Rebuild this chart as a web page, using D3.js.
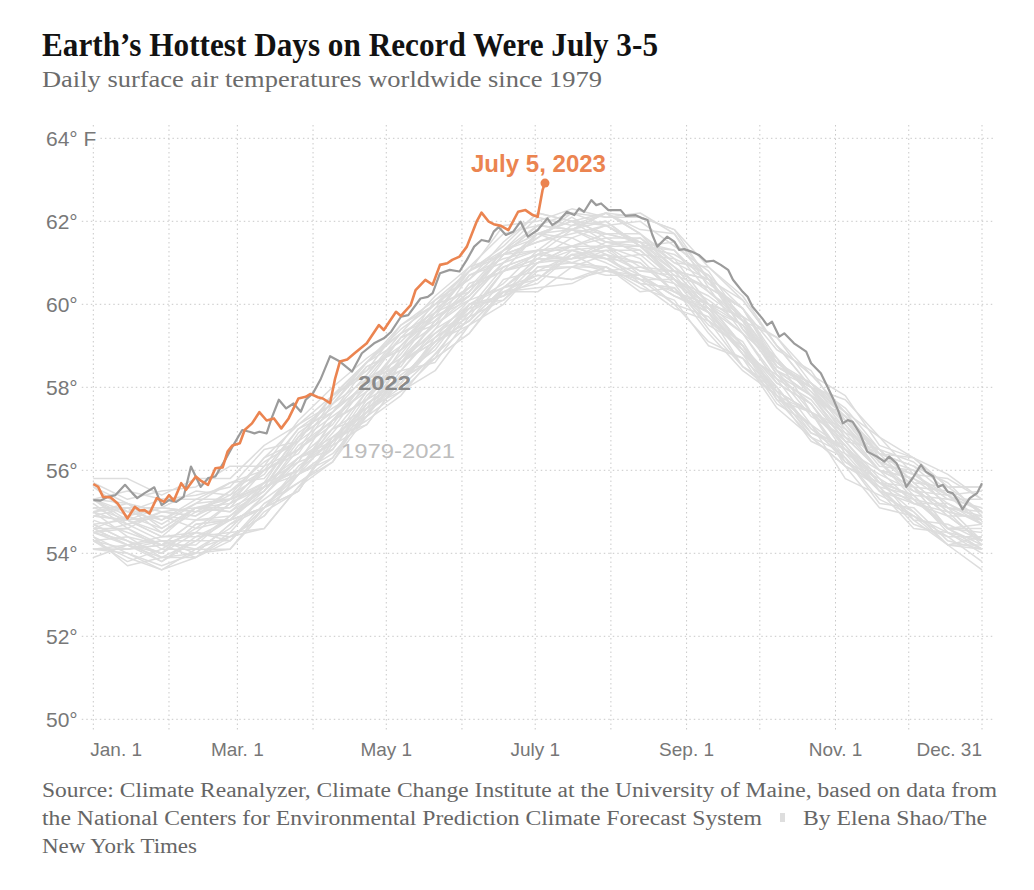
<!DOCTYPE html>
<html>
<head>
<meta charset="utf-8">
<script src="https://cdn.jsdelivr.net/npm/d3@7"></script>
<style>
  body { margin: 0; background: #ffffff; }
  svg { display: block; }
</style>
</head>
<body>
<svg id="chart" width="1034" height="890"></svg>
<script>
// ---------------- DATA ----------------
const gridDays = [0, 31, 59, 90, 120, 151, 181, 212, 243, 273, 304, 334, 364];
const xLabelDays = [0, 59, 120, 181, 243, 304, 364];
const xLabelTexts = ["Jan. 1", "Mar. 1", "May 1", "July 1", "Sep. 1", "Nov. 1", "Dec. 31"];
const yTicks = [50, 52, 54, 56, 58, 60, 62, 64];
const yTickLabels = ["50°", "52°", "54°", "56°", "58°", "60°", "62°", "64° F"];

// 1979-2021: estimated values every 14 days (day of year)
const historicDays = [0,14,28,42,56,70,84,98,112,126,140,154,168,182,196,210,224,238,252,266,280,294,308,322,336,350,364];
const historicYears = [1979,1980,1981,1982,1983,1984,1985,1986,1987,1988,1989,1990,1991,1992,1993,1994,1995,1996,1997,1998,1999,2000,2001,2002,2003,2004,2005,2006,2007,2008,2009,2010,2011,2012,2013,2014,2015,2016,2017,2018,2019,2020,2021];
const historicTemps = [
  [54.3,53.8,54.1,54.1,54.1,55.1,55.9,56.4,57.3,58.4,58.6,59.7,60.1,60.9,60.9,60.7,60.7,60.5,59.4,58.5,58.0,57.0,56.3,55.2,55.1,54.3,54.1], // 1979
  [54.1,54.2,54.0,54.5,54.4,54.9,55.9,56.8,57.1,58.2,59.1,59.6,60.4,60.6,61.3,61.1,60.6,60.3,59.8,58.9,57.7,57.4,56.2,55.6,54.8,54.7,54.3], // 1980
  [54.3,54.4,53.9,54.0,54.7,55.1,55.5,56.7,57.6,58.1,59.0,60.0,60.1,60.8,60.9,61.2,60.5,60.4,59.6,59.1,57.8,56.9,56.5,55.7,55.0,54.2,54.4], // 1981
  [54.3,53.9,53.6,54.1,54.4,54.6,55.6,56.6,57.1,58.2,58.7,59.3,60.4,60.7,60.6,60.8,60.7,60.0,59.1,58.7,57.9,56.8,56.1,55.6,54.7,54.4,53.8], // 1982
  [54.3,54.1,54.3,54.1,54.6,55.4,56.2,56.5,57.6,58.2,58.7,60.0,60.4,61.0,61.3,61.0,60.6,60.6,59.8,58.9,57.9,57.4,56.1,55.7,55.4,54.6,54.2], // 1983
  [54.4,54.0,53.7,54.0,54.1,55.0,55.5,56.7,57.2,57.8,58.8,59.5,60.3,60.3,60.9,60.9,60.5,59.9,59.6,58.5,57.8,56.7,56.3,55.3,54.9,54.5,54.0], // 1984
  [54.1,54.0,53.6,53.9,54.5,54.6,55.6,56.2,57.3,57.9,58.4,59.5,60.3,60.4,60.5,60.9,60.4,60.1,59.0,58.7,57.5,56.8,56.1,55.1,54.9,54.2,53.6], // 1985
  [54.4,53.7,53.9,54.3,54.3,55.1,55.5,56.8,57.4,58.0,58.8,59.8,60.3,60.5,61.2,60.8,60.6,60.0,59.7,58.8,57.6,57.1,56.2,55.8,54.8,54.2,54.2], // 1986
  [54.6,54.2,53.8,54.4,54.8,55.1,56.0,57.0,57.3,58.3,58.9,60.0,60.2,61.0,61.1,61.4,60.7,60.2,59.9,59.0,58.0,56.9,56.6,55.7,55.4,54.5,54.1], // 1987
  [54.7,54.3,54.0,54.7,54.8,55.1,56.0,57.0,57.5,58.1,59.2,60.1,60.4,61.0,61.4,61.1,61.0,60.3,60.0,59.0,57.9,57.4,56.6,55.5,55.2,54.9,54.3], // 1988
  [54.1,54.1,54.2,54.5,54.3,55.2,55.7,56.3,57.6,58.2,59.0,59.9,60.2,60.6,61.2,61.1,60.7,60.2,59.8,58.5,57.9,57.4,56.3,55.5,54.9,54.4,54.4], // 1989
  [54.5,54.7,54.3,54.3,54.9,55.4,56.3,56.6,57.8,58.6,59.2,59.8,60.8,61.0,61.4,61.1,61.2,60.5,60.0,59.3,58.2,57.7,56.7,55.8,55.3,54.6,54.6], // 1990
  [54.6,54.2,54.4,54.4,54.5,55.4,56.3,56.7,57.4,58.6,59.1,60.0,60.2,61.2,61.1,61.2,61.0,60.3,60.0,59.0,57.8,57.4,56.7,55.7,55.2,55.0,54.2], // 1991
  [53.9,54.2,53.9,53.9,54.3,55.1,55.7,56.2,57.5,57.9,58.7,59.3,60.3,60.7,60.6,60.9,60.5,60.4,59.3,58.4,57.8,57.1,55.8,55.4,55.0,54.2,54.1], // 1992
  [54.1,54.1,54.2,53.9,54.4,54.9,55.9,56.3,57.4,58.1,59.1,59.5,60.0,60.9,61.0,60.9,60.3,60.4,59.5,59.0,57.7,56.8,56.4,55.5,54.6,54.5,54.3], // 1993
  [54.5,54.3,53.8,54.3,54.8,55.1,56.1,56.7,57.3,58.6,59.1,59.6,60.4,61.1,61.0,60.8,60.9,60.6,59.6,58.9,58.2,57.1,56.5,55.5,55.3,54.6,54.1], // 1994
  [54.7,54.3,54.0,54.7,54.8,55.5,56.3,56.8,57.5,58.7,59.3,60.0,60.5,61.3,61.0,61.3,61.3,60.6,59.8,59.0,58.1,57.6,56.4,55.9,55.5,55.1,54.3], // 1995
  [54.5,54.2,54.3,54.0,54.7,55.3,55.9,56.5,57.7,58.2,59.1,59.6,60.6,60.8,61.2,61.3,60.8,60.7,59.8,58.8,58.0,57.0,56.5,55.6,55.4,54.6,54.1], // 1996
  [55.0,54.4,54.2,54.8,54.9,55.6,55.9,57.2,57.7,58.6,59.4,59.9,60.9,61.2,61.1,61.5,61.3,60.6,60.0,59.7,58.3,57.8,56.8,56.4,55.6,54.9,54.9], // 1997
  [55.6,55.0,54.8,55.3,55.7,55.8,56.8,57.8,58.3,59.3,59.7,60.8,61.2,61.5,61.7,61.9,61.5,60.8,60.6,59.4,58.4,57.4,57.0,56.2,55.3,55.1,54.7], // 1998
  [54.5,54.6,54.1,54.6,54.8,55.7,56.0,56.7,57.9,58.6,59.2,59.7,60.8,61.1,61.6,61.2,60.8,60.8,59.9,58.8,58.3,57.6,56.5,56.0,55.6,54.6,54.5], // 1999
  [54.6,54.6,54.2,54.2,54.9,55.6,56.0,56.9,57.9,58.4,59.3,59.8,60.8,61.1,61.1,61.4,61.1,60.3,59.9,59.3,58.1,57.6,56.6,55.7,55.6,54.9,54.3], // 2000
  [54.9,54.8,54.4,54.5,55.2,55.7,56.3,57.0,58.1,58.4,59.4,60.5,60.8,61.2,61.4,61.4,61.4,60.6,60.1,59.5,58.7,57.4,56.9,56.0,55.2,55.2,54.7], // 2001
  [54.7,54.8,54.5,55.1,55.1,55.5,56.5,57.2,58.2,58.5,59.6,60.4,60.9,61.2,61.8,61.5,61.4,60.7,60.4,59.3,58.6,57.9,56.9,56.5,55.7,55.0,54.8], // 2002
  [55.0,55.1,54.5,55.0,55.1,56.0,56.5,57.1,58.2,59.2,59.5,60.2,61.2,61.5,61.8,61.4,61.6,60.9,60.3,59.6,58.4,58.0,57.0,56.0,55.8,55.4,54.8], // 2003
  [55.1,54.8,54.4,55.1,55.0,55.7,56.2,57.4,58.1,58.6,59.6,60.3,61.2,61.3,61.4,61.7,61.5,60.6,60.2,59.6,58.4,57.8,56.7,56.5,55.7,55.0,54.8], // 2004
  [55.0,54.7,55.0,55.1,55.3,55.6,56.8,57.4,58.5,58.9,59.5,60.7,61.1,61.3,61.9,62.0,61.4,61.2,60.7,59.4,58.7,57.8,57.3,56.2,55.9,55.3,55.3], // 2005
  [54.9,54.8,54.9,54.8,55.3,55.6,56.7,57.3,57.9,59.0,59.7,60.1,61.0,61.7,61.6,61.9,61.4,60.8,60.6,59.6,58.4,57.8,57.2,56.2,55.4,55.3,55.1], // 2006
  [55.3,54.7,54.9,54.6,55.2,56.1,56.5,57.2,58.0,58.8,59.8,60.2,61.0,61.7,62.0,61.5,61.5,60.9,60.0,59.7,58.6,57.9,57.2,56.2,55.5,55.4,55.0], // 2007
  [54.8,54.5,54.2,54.8,54.8,55.6,56.0,57.2,57.7,58.7,59.5,60.1,61.0,61.3,61.3,61.4,60.9,60.8,59.9,59.5,58.3,57.3,56.8,56.0,55.6,54.6,54.7], // 2008
  [55.2,54.6,55.0,54.9,55.3,56.0,56.4,57.6,58.2,58.7,59.8,60.7,61.0,61.6,62.1,61.6,61.6,61.0,60.6,59.6,58.5,58.0,57.4,56.3,55.6,55.5,55.0], // 2009
  [55.0,55.2,55.0,54.9,55.5,56.0,57.0,57.4,58.1,59.2,60.0,60.3,61.2,61.9,61.8,62.0,61.4,61.5,60.6,59.4,58.6,58.0,57.1,56.1,56.0,55.1,54.9], // 2010
  [54.6,54.9,54.6,55.1,55.0,55.5,56.6,57.2,57.7,58.9,59.7,60.2,61.0,61.7,61.4,61.6,61.2,61.1,60.0,59.5,58.5,58.0,56.8,56.0,55.8,55.2,54.8], // 2011
  [55.1,55.1,54.7,55.2,55.3,55.7,56.9,57.5,58.0,59.0,59.9,60.4,60.8,61.7,62.0,61.7,61.5,61.3,60.3,59.7,58.5,58.1,57.1,56.2,55.9,55.4,54.7], // 2012
  [55.3,55.2,54.6,55.1,55.2,55.6,56.8,57.4,58.3,59.2,59.6,60.3,61.3,61.7,61.8,61.7,61.7,60.8,60.4,59.9,58.7,57.8,57.0,56.3,56.0,55.1,55.0], // 2013
  [55.3,54.8,55.1,55.0,55.5,56.2,56.7,57.8,58.4,59.0,59.8,60.4,61.3,61.6,62.2,61.9,61.4,61.3,60.5,59.9,58.5,58.1,57.3,56.5,55.7,55.6,55.0], // 2014
  [55.3,54.9,55.1,55.5,55.4,55.9,57.0,57.6,58.5,58.9,60.1,60.6,61.3,61.9,61.8,62.2,61.7,61.0,60.9,60.2,59.0,58.3,57.8,56.6,56.3,55.6,55.6], // 2015
  [55.8,55.8,55.4,55.8,55.8,56.6,57.1,57.8,58.6,59.5,60.1,60.8,61.9,62.0,62.3,62.1,62.2,61.7,60.4,59.9,58.9,58.4,57.2,56.4,56.1,55.7,54.9], // 2016
  [55.3,55.0,55.3,55.3,55.3,56.3,57.1,57.6,58.6,59.3,59.8,60.8,61.3,62.1,61.9,62.2,61.8,61.7,60.6,59.7,59.2,58.3,57.4,56.4,56.3,55.6,55.6], // 2017
  [55.6,55.2,54.8,55.2,55.7,56.0,56.5,57.7,58.6,59.1,59.9,60.9,61.2,61.9,61.8,62.2,61.7,61.1,60.7,59.9,58.6,58.1,57.5,56.5,56.2,55.5,55.0], // 2018
  [55.3,55.5,55.3,55.4,55.6,56.5,56.7,57.8,58.6,59.4,60.0,60.8,61.4,62.2,62.0,62.2,62.1,61.8,60.6,60.1,59.0,58.0,57.7,56.8,56.3,55.9,55.3], // 2019
  [55.7,55.3,55.5,55.6,56.1,56.1,57.2,58.0,58.7,59.3,60.2,60.9,61.7,61.9,62.2,62.1,62.1,61.8,60.9,60.1,59.0,58.0,57.3,56.4,56.1,55.4,55.5], // 2020
  [54.9,55.1,55.1,55.0,55.4,56.3,56.7,57.8,58.4,59.5,60.0,60.6,61.5,62.2,62.0,61.9,62.0,61.4,60.8,59.6,59.2,58.1,57.4,56.8,55.9,55.8,55.3]  // 2021
];

const days2022 = [0,3,6,9,13,16,18,21,25,28,31,34,37,40,44,47,50,54,57,61,64,66,68,71,73,76,79,82,85,87,90,93,97,101,106,110,115,119,122,126,129,134,137,139,142,146,150,153,156,159,162,164,166,169,172,175,178,182,186,188,191,194,197,199,201,204,206,208,211,214,216,218,222,225,227,229,231,235,238,240,242,245,248,251,254,257,260,262,266,268,270,274,276,278,281,283,287,289,292,294,298,300,303,305,307,309,311,314,317,321,324,326,329,331,333,336,339,341,344,346,348,350,352,354,356,359,362,364];
const temps2022 = [55.28,55.27,55.36,55.4,55.65,55.45,55.33,55.45,55.59,55.16,55.28,55.24,55.36,56.09,55.6,55.81,55.85,56.25,56.57,56.97,56.93,56.89,56.93,56.89,57.25,57.7,57.49,57.61,57.41,57.7,57.86,58.18,58.75,58.62,58.38,58.82,59.06,59.18,59.34,59.7,59.74,60.14,60.18,60.27,60.75,60.83,60.79,61.07,61.39,61.55,61.51,61.75,61.86,61.67,61.75,61.99,61.63,61.79,62.07,61.91,62.03,62.23,62.15,62.31,62.23,62.51,62.39,62.43,62.27,62.27,62.27,62.13,62.15,62.07,62.03,61.67,61.39,61.63,61.51,61.31,61.33,61.27,61.19,61.03,61.05,60.95,60.83,60.59,60.3,60.18,59.94,59.66,59.5,59.58,59.22,59.3,59.06,58.98,58.86,58.58,58.34,58.1,57.73,57.45,57.13,57.21,57.17,56.89,56.45,56.33,56.21,56.33,56.17,55.93,55.6,55.85,56.13,55.97,55.85,55.6,55.65,55.48,55.45,55.28,55.06,55.33,55.45,55.69];

// 2023 up to July 5 (day 185)
const days2023 = [0,2,4,7,10,14,17,19,21,23,26,29,31,33,36,38,42,44,47,50,53,55,57,60,62,65,68,71,74,77,80,84,87,89,92,94,97,99,101,104,107,112,117,119,124,126,130,132,136,139,142,145,147,150,153,157,159,162,164,167,170,174,177,180,182,184,185];
const temps2023 = [55.67,55.6,55.36,55.35,55.2,54.84,55.12,55.03,55.04,54.96,55.33,55.24,55.4,55.27,55.69,55.53,55.85,55.75,55.65,56.05,56.07,56.45,56.6,56.65,56.97,57.13,57.4,57.2,57.25,57.01,57.25,57.73,57.77,57.84,57.76,57.73,57.62,58.2,58.62,58.67,58.82,59.06,59.5,59.38,59.82,59.72,59.98,60.34,60.59,60.47,60.95,60.99,61.07,61.15,61.39,61.99,62.21,61.99,61.93,61.89,61.79,62.23,62.27,62.15,62.11,62.75,62.92];

// ---------------- CHART ----------------
const svg = d3.select("#chart");
const x = d3.scaleLinear().domain([0, 364]).range([93.3, 982]);
const y = d3.scaleLinear().domain([50, 64]).range([719.3, 138.3]);

const SANS = "'Liberation Sans', Arial, sans-serif";
const SERIF = "'Liberation Serif', 'Times New Roman', serif";
const ORANGE = "#eb8450";

// Title / subtitle
svg.append("text").attr("x", 42).attr("y", 56)
  .attr("font-family", SERIF).attr("font-weight", "bold").attr("font-size", 34)
  .attr("fill", "#121212").attr("textLength", 616).attr("lengthAdjust", "spacingAndGlyphs")
  .text("Earth’s Hottest Days on Record Were July 3-5");
svg.append("text").attr("x", 42).attr("y", 87)
  .attr("font-family", SERIF).attr("font-size", 23)
  .attr("fill", "#6b6b6b").attr("textLength", 560).attr("lengthAdjust", "spacingAndGlyphs")
  .text("Daily surface air temperatures worldwide since 1979");

// Grid
const grid = svg.append("g").attr("stroke", "#c9c9c9").attr("stroke-width", 1)
  .attr("stroke-dasharray", "1.5,3");
grid.selectAll("line.v").data(gridDays).join("line").attr("class", "v")
  .attr("x1", d => x(d)).attr("x2", d => x(d)).attr("y1", 125).attr("y2", 732);

// Y labels (white halo hides grid beneath)
const yLabels = svg.append("g").selectAll("text").data(yTicks).join("text")
  .attr("x", 46).attr("y", d => y(d)).attr("dy", "0.36em")
  .attr("font-family", SANS).attr("font-size", 21).attr("fill", "#787878")
  .attr("stroke", "#ffffff").attr("stroke-width", 6).attr("paint-order", "stroke")
  .attr("stroke-linejoin", "round")
  .text((d, i) => yTickLabels[i]);
const labelEnds = [];
yLabels.each(function () { labelEnds.push(46 + this.getComputedTextLength()); });
grid.selectAll("line.h").data(yTicks).join("line").attr("class", "h")
  .attr("x1", (d, i) => labelEnds[i] + 4).attr("x2", 995)
  .attr("y1", d => y(d)).attr("y2", d => y(d));

// X labels
svg.append("g").selectAll("text").data(xLabelDays).join("text")
  .attr("x", d => x(d)).attr("y", 756)
  .attr("text-anchor", (d, i) => i === 0 ? "start" : (i === xLabelDays.length - 1 ? "end" : "middle"))
  .attr("dx", (d, i) => i === 0 ? -3 : 0)
  .attr("font-family", SANS).attr("font-size", 19).attr("fill", "#777")
  .text((d, i) => xLabelTexts[i]);

// Lines
const lineGen = d3.line().x(d => x(d[0])).y(d => y(d[1]));
svg.append("g").selectAll("path").data(historicTemps).join("path")
  .attr("d", row => lineGen(row.map((v, i) => [historicDays[i], v])))
  .attr("fill", "none").attr("stroke", "#dddddd").attr("stroke-width", 1.5)
  .attr("stroke-linejoin", "round");

svg.append("path").attr("d", lineGen(days2022.map((d, i) => [d, temps2022[i]])))
  .attr("fill", "none").attr("stroke", "#9b9b9b").attr("stroke-width", 2.2)
  .attr("stroke-linejoin", "round");

svg.append("path").attr("d", lineGen(days2023.map((d, i) => [d, temps2023[i]])))
  .attr("fill", "none").attr("stroke", ORANGE).attr("stroke-width", 2.6)
  .attr("stroke-linejoin", "round");

const lastDay = days2023[days2023.length - 1], lastT = temps2023[temps2023.length - 1];
svg.append("circle").attr("cx", x(lastDay)).attr("cy", y(lastT)).attr("r", 4.5).attr("fill", ORANGE);

// Annotations
svg.append("text").attr("x", 471).attr("y", 172)
  .attr("font-family", SANS).attr("font-weight", "bold").attr("font-size", 23)
  .attr("fill", ORANGE).attr("textLength", 135).attr("lengthAdjust", "spacingAndGlyphs")
  .text("July 5, 2023");
svg.append("text").attr("x", 358).attr("y", 390)
  .attr("font-family", SANS).attr("font-weight", "bold").attr("font-size", 21)
  .attr("fill", "#8a8a8a").attr("textLength", 53).attr("lengthAdjust", "spacingAndGlyphs")
  .text("2022");
svg.append("text").attr("x", 341).attr("y", 458)
  .attr("font-family", SANS).attr("font-size", 20)
  .attr("fill", "#bdbdbd").attr("textLength", 114).attr("lengthAdjust", "spacingAndGlyphs")
  .text("1979-2021");

// Source
const src = svg.append("g").attr("font-family", SERIF).attr("font-size", 20).attr("fill", "#666");
src.append("text").attr("x", 42).attr("y", 797).attr("textLength", 955).attr("lengthAdjust", "spacingAndGlyphs")
  .text("Source: Climate Reanalyzer, Climate Change Institute at the University of Maine, based on data from");
src.append("text").attr("x", 42).attr("y", 825).attr("textLength", 720).attr("lengthAdjust", "spacingAndGlyphs")
  .text("the National Centers for Environmental Prediction Climate Forecast System");
svg.append("rect").attr("x", 780).attr("y", 813).attr("width", 5).attr("height", 9).attr("fill", "#dedede");
src.append("text").attr("x", 803).attr("y", 825).attr("textLength", 184).attr("lengthAdjust", "spacingAndGlyphs")
  .text("By Elena Shao/The");
src.append("text").attr("x", 42).attr("y", 853).attr("textLength", 155).attr("lengthAdjust", "spacingAndGlyphs")
  .text("New York Times");
</script>
</body>
</html>
